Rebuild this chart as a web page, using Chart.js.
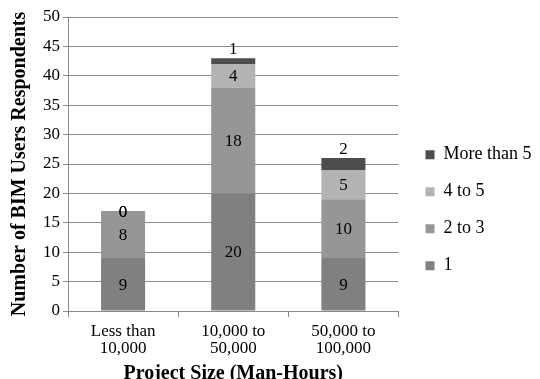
<!DOCTYPE html>
<html>
<head>
<meta charset="utf-8">
<script src="https://cdn.jsdelivr.net/npm/chart.js@4/dist/chart.umd.min.js"></script>
<style>
  html, body { margin: 0; padding: 0; background: #fff; }
  #wrap { width: 540px; height: 379px; }
</style>
</head>
<body>
<div id="wrap"><canvas id="myChart"></canvas></div>
<script>
var sizes = [["Less than", "10,000"], ["10,000 to", "50,000"], ["50,000 to", "100,000"]];
var seriesNames = ["1", "2 to 3", "4 to 5", "More than 5"];
var one = [9, 20, 9];
var twoToThree = [8, 18, 10];
var fourToFive = [0, 4, 5];
var moreThanFive = [0, 1, 2];
var yTicks = [0, 5, 10, 15, 20, 25, 30, 35, 40, 45, 50];

var colors = ["#808080", "#969696", "#b3b3b3", "#4d4d4d"];
var serif = "Liberation Serif";

Chart.defaults.font.family = serif;
Chart.defaults.color = "#000";

// writes each segment's value; the top series sits just above the bar
var valueLabels = {
  id: "valueLabels",
  afterDatasetsDraw(chart) {
    const ctx = chart.ctx;
    const last = chart.data.datasets.length - 1;
    ctx.save();
    ctx.font = "17px \"Liberation Serif\"";
    ctx.fillStyle = "#000";
    ctx.textAlign = "center";
    ctx.textBaseline = "middle";
    chart.data.datasets.forEach((ds, i) => {
      const meta = chart.getDatasetMeta(i);
      meta.data.forEach((bar, j) => {
        const v = ds.data[j];
        let y = (bar.y + bar.base) / 2;
        if (i === last && v > 0) y = bar.y - 10;
        ctx.fillText(String(v), bar.x, y + 1);
      });
    });
    ctx.restore();
  },
};

// leave a wider gap between the plot and the legend
var legendGap = {
  id: "legendGap",
  afterLayout(chart) {
    chart.legend.left += 8;
    chart.legend.right += 8;
  },
};

function createChart() {
  const ctx = document.getElementById("myChart");
  const series = [one, twoToThree, fourToFive, moreThanFive];
  new Chart(ctx, {
    type: "bar",
    data: {
      labels: sizes,
      datasets: series.map((d, i) => ({
        label: seriesNames[i],
        data: d,
        backgroundColor: colors[i],
        borderWidth: 0,
        barPercentage: 0.4,
        categoryPercentage: 1,
      })),
    },
    plugins: [valueLabels, legendGap],
    options: {
      responsive: true,
      maintainAspectRatio: false,
      animation: false,
      layout: { padding: { top: 17, right: 12, bottom: 0, left: 10 } },
      plugins: {
        tooltip: { enabled: false },
        legend: {
          position: "right",
          reverse: true,
          title: { display: true, text: "", padding: 5 },
          labels: {
            font: { size: 18 },
            boxWidth: 9,
            boxHeight: 9,
            padding: 19,
          },
        },
      },
      scales: {
        x: {
          stacked: true,
          grid: {
            drawOnChartArea: false,
            drawTicks: true,
            tickLength: 6,
            color: "#888",
          },
          border: { color: "#888" },
          ticks: {
            font: { size: 17, lineHeight: 1.0 },
            maxRotation: 0,
            padding: 6,
          },
          title: {
            display: true,
            text: "Project Size (Man-Hours)",
            font: { size: 20, weight: "bold", lineHeight: 1.0 },
            padding: { top: 1, bottom: -5 },
          },
        },
        y: {
          stacked: true,
          min: 0,
          max: 50,
          afterBuildTicks: (axis) => {
            axis.ticks = yTicks.map((v) => ({ value: v }));
          },
          grid: { color: "#8c8c8c", tickLength: 5 },
          border: { color: "#888" },
          ticks: {
            font: { size: 17 },
            padding: 3,
          },
          title: {
            display: true,
            text: "Number of BIM Users Respondents",
            font: { size: 20, weight: "bold", lineHeight: 1.0 },
            padding: { top: 0, bottom: 10 },
          },
        },
      },
    },
  });
}

createChart();
</script>
</body>
</html>
